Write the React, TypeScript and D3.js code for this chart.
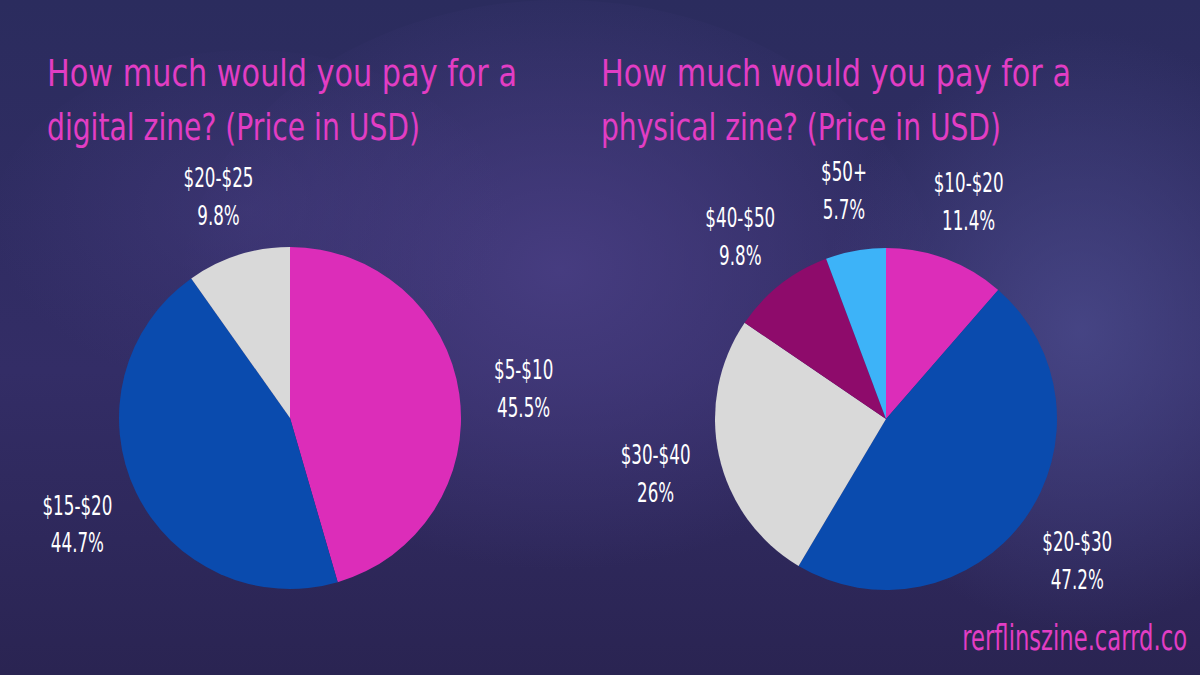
import React from "react";
import * as d3 from "d3";

// digital zine prices
const digitalLabels = ["$5-$10", "$15-$20", "$20-$25"];
const digitalValues = [45.5, 44.7, 9.8];
const digitalShown = ["45.5%", "44.7%", "9.8%"];

// physical zine prices
const physicalLabels = ["$10-$20", "$20-$30", "$30-$40", "$40-$50", "$50+"];
const physicalValues = [11.4, 47.2, 26, 9.8, 5.7];
const physicalShown = ["11.4%", "47.2%", "26%", "9.8%", "5.7%"];

const digitalColors = ["#dc2db9", "#0a4bae", "#d9d9d9"];
const physicalColors = ["#dc2db9", "#0a4bae", "#d9d9d9", "#8e0b6b", "#3db3f8"];

const W = 1200;
const H = 675;
const FONT = "'DejaVu Sans', sans-serif";
const PINK = "#e23dc4";

interface PieProps {
  cx: number;
  cy: number;
  labels: string[];
  values: number[];
  shown: string[];
  colors: string[];
}

const Pie: React.FC<PieProps> = ({ cx, cy, labels, values, shown, colors }) => {
  const radius = 171;
  const labelRadius = 236;
  const pie = d3.pie<number>().sort(null).value((d) => d);
  const arcs = pie(values);
  const arc = d3.arc<d3.PieArcDatum<number>>().innerRadius(0).outerRadius(radius);
  const labelArc = d3
    .arc<d3.PieArcDatum<number>>()
    .innerRadius(labelRadius)
    .outerRadius(labelRadius);

  return (
    <g transform={`translate(${cx},${cy})`}>
      {arcs.map((a, i) => (
        <path key={i} d={arc(a) || ""} fill={colors[i]} />
      ))}
      {arcs.map((a, i) => {
        const [x, y] = labelArc.centroid(a);
        return (
          <g key={"l" + i} transform={`translate(${x},${y}) scale(0.62,1)`}>
            <text y={-6} textAnchor="middle" fill="#ffffff" fontSize={27} fontFamily={FONT}>
              {labels[i]}
            </text>
            <text y={32} textAnchor="middle" fill="#ffffff" fontSize={27} fontFamily={FONT}>
              {shown[i]}
            </text>
          </g>
        );
      })}
    </g>
  );
};

const Title: React.FC<{ x: number; lines: string[]; widths: number[] }> = ({ x, lines, widths }) => (
  <g>
    {lines.map((t, i) => (
      <text
        key={i}
        x={x}
        y={86 + i * 54}
        fill={PINK}
        fontSize={38}
        fontFamily={FONT}
        textLength={widths[i]}
        lengthAdjust="spacingAndGlyphs"
      >
        {t}
      </text>
    ))}
  </g>
);

export default function App() {
  return (
    <svg width={W} height={H} style={{ position: "absolute", left: 0, top: 0 }}>
      <defs>
        <radialGradient id="glowC" cx="0.5" cy="0.45" r="0.5">
          <stop offset="0%" stopColor="#4a3f85" stopOpacity={0.85} />
          <stop offset="100%" stopColor="#4a3f85" stopOpacity={0} />
        </radialGradient>
        <radialGradient id="glowR" cx="0.5" cy="0.5" r="0.5">
          <stop offset="0%" stopColor="#4c4c8e" stopOpacity={0.75} />
          <stop offset="100%" stopColor="#4c4c8e" stopOpacity={0} />
        </radialGradient>
        <linearGradient id="base" x1="0" y1="0" x2="0" y2="1">
          <stop offset="0%" stopColor="#2b2c5e" />
          <stop offset="55%" stopColor="#332d66" />
          <stop offset="100%" stopColor="#2a2452" />
        </linearGradient>
      </defs>
      <rect width={W} height={H} fill="url(#base)" />
      <ellipse cx={560} cy={300} rx={380} ry={300} fill="url(#glowC)" />
      <ellipse cx={1080} cy={330} rx={260} ry={300} fill="url(#glowR)" />
      <ellipse cx={250} cy={230} rx={260} ry={180} fill="url(#glowC)" opacity={0.5} />

      <Title
        x={47}
        lines={["How much would you pay for a", "digital zine? (Price in USD)"]}
        widths={[470, 373]}
      />
      <Title
        x={601}
        lines={["How much would you pay for a", "physical zine? (Price in USD)"]}
        widths={[470, 400]}
      />

      <Pie
        cx={290}
        cy={418}
        labels={digitalLabels}
        values={digitalValues}
        shown={digitalShown}
        colors={digitalColors}
      />
      <Pie
        cx={886}
        cy={419}
        labels={physicalLabels}
        values={physicalValues}
        shown={physicalShown}
        colors={physicalColors}
      />

      <g transform="translate(1187,650) scale(0.63,1)">
        <text x={0} y={0} textAnchor="end" fill={PINK} fontSize={36} fontFamily={FONT}>
          rerflinszine.carrd.co
        </text>
      </g>
    </svg>
  );
}
